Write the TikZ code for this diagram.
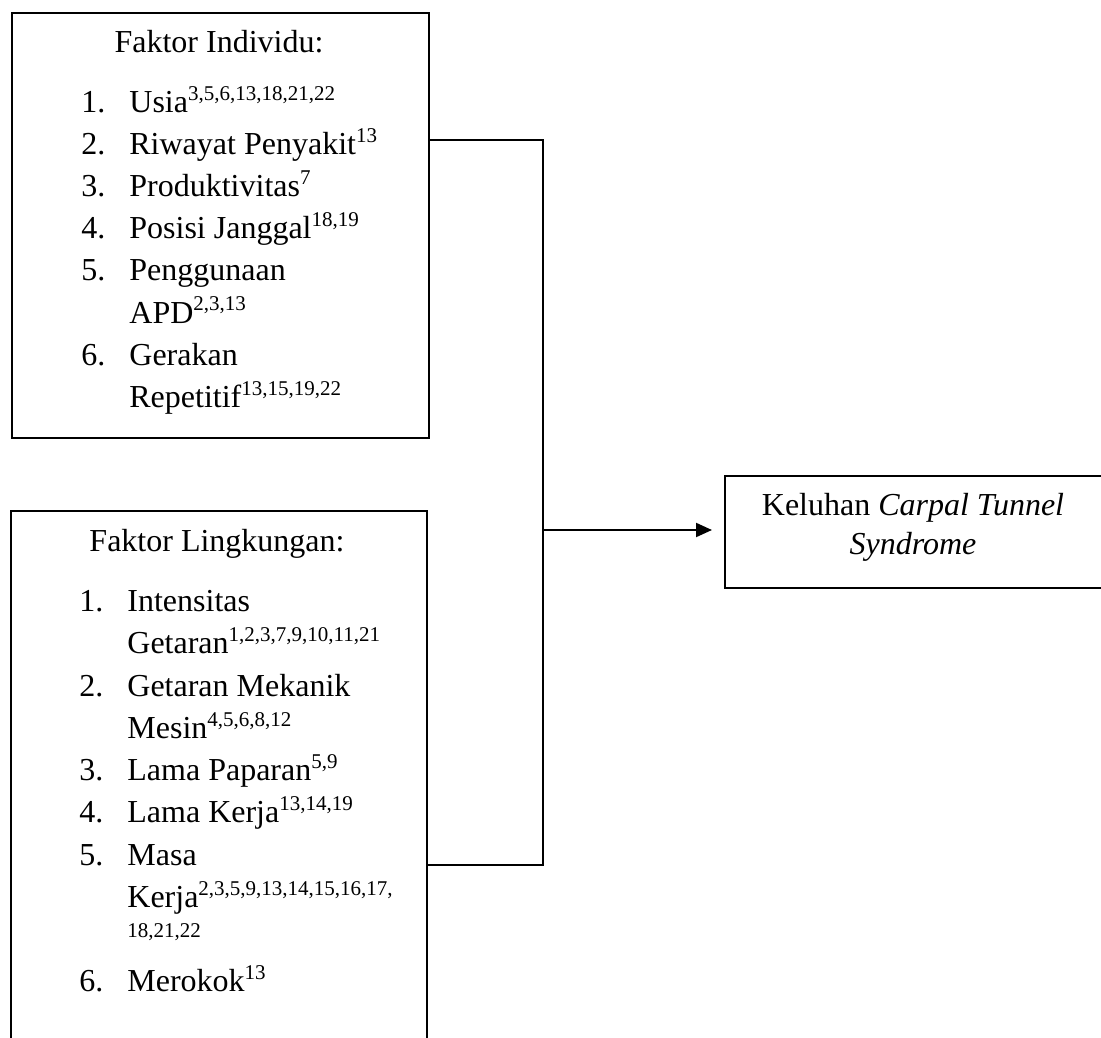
\documentclass[tikz,border=0pt]{standalone}
\usepackage{fontspec}
\setmainfont{Liberation Serif}
\usetikzlibrary{arrows.meta}
\newcommand{\rf}[1]{\raisebox{6pt}{\fontsize{10.5pt}{10.5pt}\selectfont #1}}
\tikzset{
  boxline/.style={draw=black, line width=1pt},
  conn/.style={draw=black, line width=0.55pt},
  txt/.style={inner sep=0pt, anchor=base west, font=\fontsize{16pt}{19pt}\selectfont},
  ttl/.style={inner sep=0pt, anchor=base, font=\fontsize{16pt}{19pt}\selectfont},
  smallsup/.style={inner sep=0pt, anchor=base west, font=\fontsize{10.5pt}{10.5pt}\selectfont},
}
\begin{document}
\begin{tikzpicture}[x=0.5pt,y=-0.5pt]
\useasboundingbox (0,0) rectangle (1101,1037);
\begin{scope}
\clip (0,0) rectangle (1101,1037);
% boxes
\node[boxline, rectangle, minimum width=208.5pt, minimum height=212.5pt, anchor=north west, inner sep=0pt] (indiv) at (11,12) {};
\node[boxline, rectangle, minimum width=208pt, minimum height=290pt, anchor=north west, inner sep=0pt] (ling) at (10,510) {};
\node[boxline, rectangle, minimum width=200pt, minimum height=56pt, anchor=north west, inner sep=0pt] (ctsbox) at (724,475) {};
\end{scope}
% top box text
\node[ttl] (t1) at (219,53) {Faktor Individu:};
\node[txt] (a1n) at (81,113) {1.};
\node[txt] (a1) at (129,113) {Usia\rf{3,5,6,13,18,21,22}};
\node[txt] (a2n) at (81,155) {2.};
\node[txt] (a2) at (129,155) {Riwayat Penyakit\rf{13}};
\node[txt] (a3n) at (81,197) {3.};
\node[txt] (a3) at (129,197) {Produktivitas\rf{7}};
\node[txt] (a4n) at (81,239) {4.};
\node[txt] (a4) at (129,239) {Posisi Janggal\rf{18,19}};
\node[txt] (a5n) at (81,281) {5.};
\node[txt] (a5) at (129,281) {Penggunaan};
\node[txt] (a5b) at (129,323) {APD\rf{2,3,13}};
\node[txt] (a6n) at (81,365) {6.};
\node[txt] (a6) at (129,365) {Gerakan};
\node[txt] (a6b) at (129,407) {Repetitif\rf{13,15,19,22}};
% bottom box text
\node[ttl] (t2) at (217,551) {Faktor Lingkungan:};
\node[txt] (b1n) at (79,611) {1.};
\node[txt] (b1) at (127,611) {Intensitas};
\node[txt] (b1b) at (127,653) {Getaran\rf{1,2,3,7,9,10,11,21}};
\node[txt] (b2n) at (79,696) {2.};
\node[txt] (b2) at (127,696) {Getaran Mekanik};
\node[txt] (b2b) at (127,738) {Mesin\rf{4,5,6,8,12}};
\node[txt] (b3n) at (79,780) {3.};
\node[txt] (b3) at (127,780) {Lama Paparan\rf{5,9}};
\node[txt] (b4n) at (79,822) {4.};
\node[txt] (b4) at (127,822) {Lama Kerja\rf{13,14,19}};
\node[txt] (b5n) at (79,865) {5.};
\node[txt] (b5) at (127,865) {Masa};
\node[txt] (b5b) at (127,907) {Kerja\rf{2,3,5,9,13,14,15,16,17,}};
\node[smallsup] (b5c) at (127,937) {18,21,22};
\node[txt] (b6n) at (79,991) {6.};
\node[txt] (b6) at (127,991) {Merokok\rf{13}};
% target text
\node[ttl] (k1) at (913,515) {Keluhan \textit{Carpal Tunnel}};
\node[ttl] (k2) at (913,554) {\textit{Syndrome}};
% connectors
\coordinate (jtop) at (543,140);
\coordinate (jbot) at (543,865);
\coordinate (jmid) at (543,530);
\draw[conn] (indiv.east |- jtop) -- (jtop) -- (jbot) -- (ling.east |- jbot);
\draw[line width=1pt, -{Triangle[length=8pt,width=7pt]}] (jmid) -- ([xshift=-6pt]ctsbox.west |- jmid);
\end{tikzpicture}
\end{document}
